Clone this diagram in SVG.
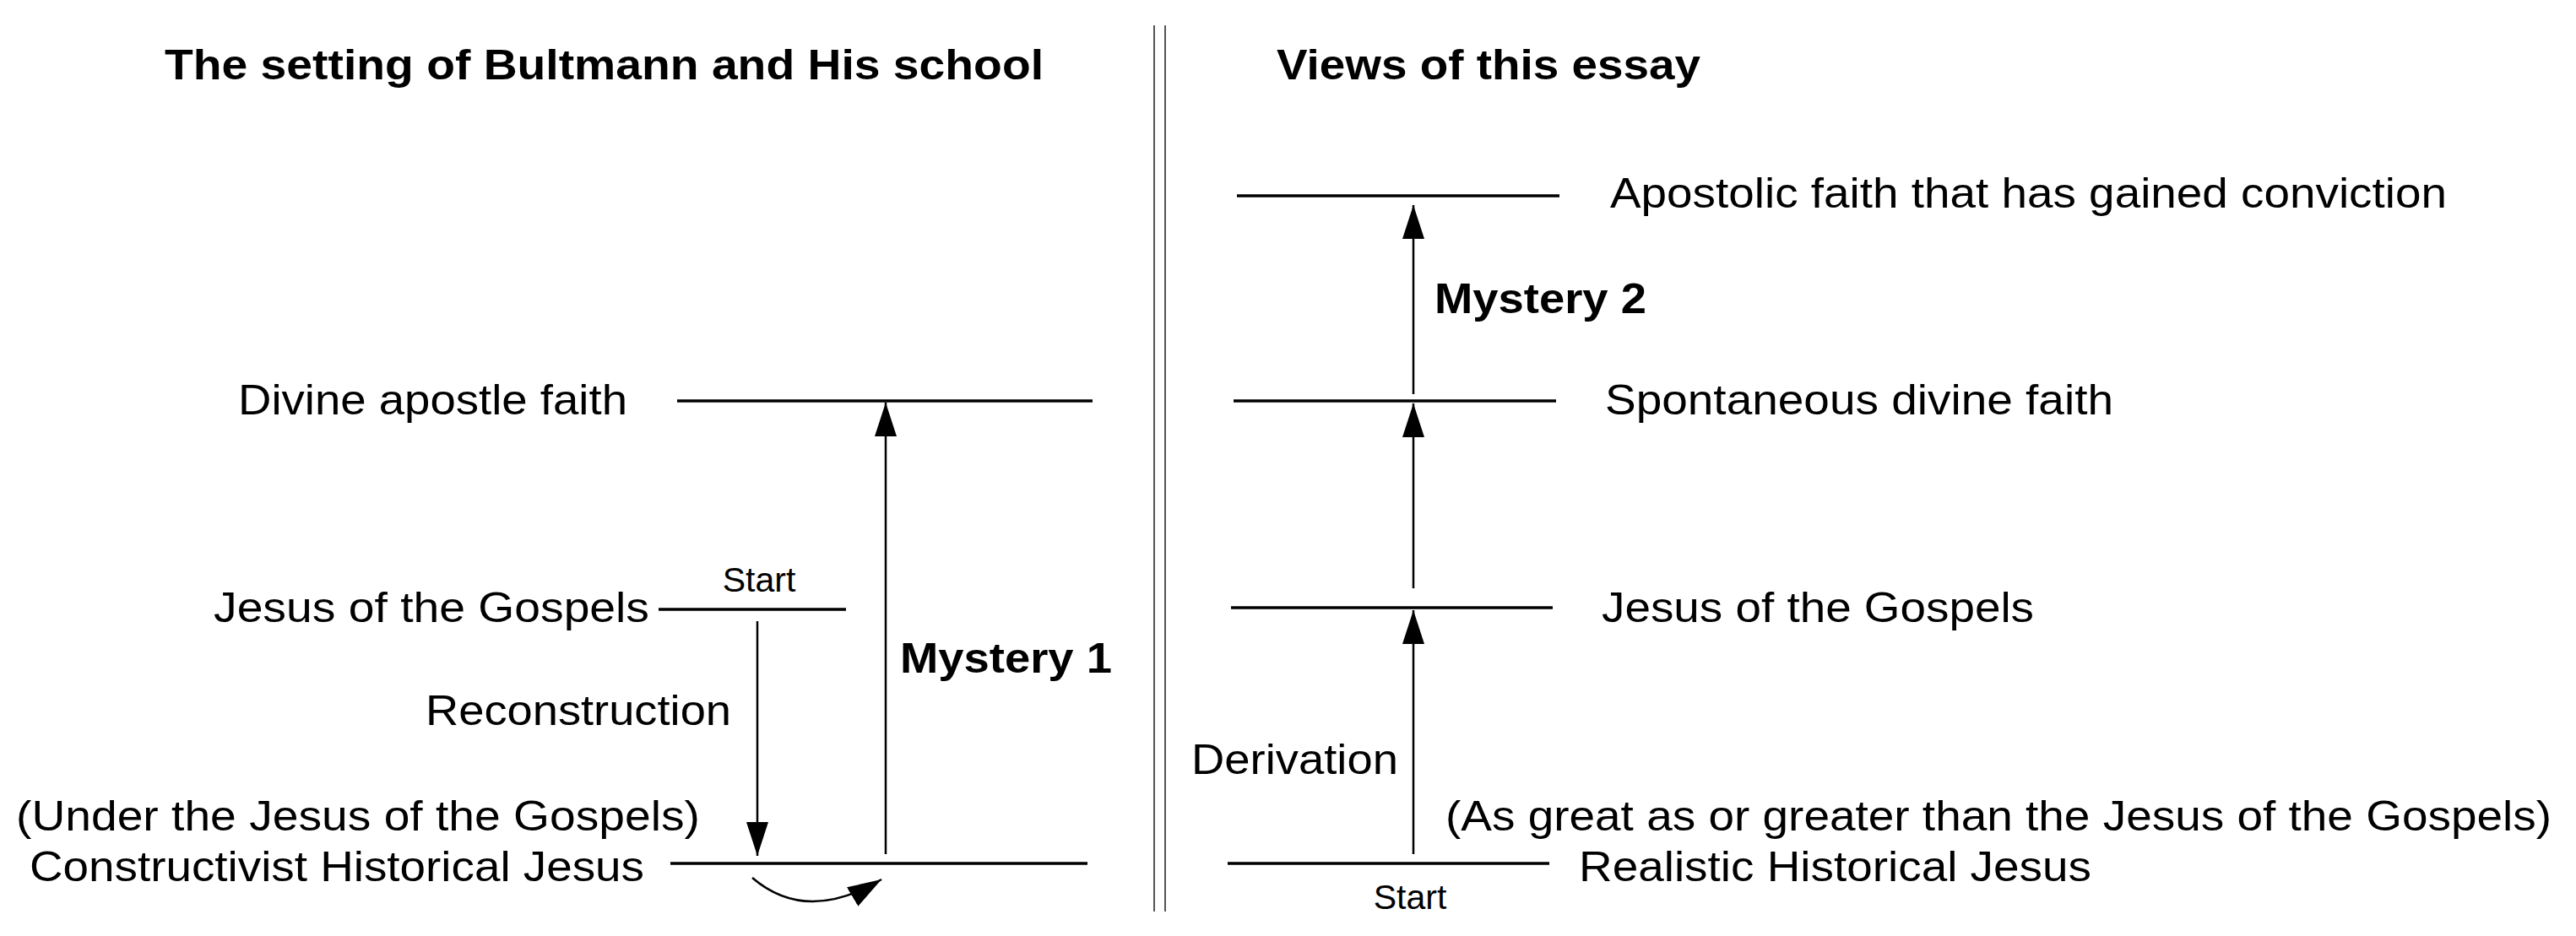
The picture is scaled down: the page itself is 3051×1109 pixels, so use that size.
<svg xmlns="http://www.w3.org/2000/svg" width="3051" height="1109" viewBox="0 0 3051 1109">
<style>
text{font-family:"Liberation Sans",Arial,sans-serif;font-size:50px;fill:#000}
.b{font-weight:bold}
.s{font-size:41px}
.lv{stroke:#000;stroke-width:3.5;fill:none}
.ar{stroke:#000;stroke-width:2.5;fill:none;marker-end:url(#ah)}
</style>
<defs>
<marker id="ah" markerUnits="userSpaceOnUse" markerWidth="44" markerHeight="30" refX="40" refY="13" orient="auto">
<path d="M0,0 L40,13 L0,26 Z" fill="#000"/>
</marker>
</defs>
<rect width="3051" height="1109" fill="#fff"/>
<g id="divider"><line x1="1367" y1="30" x2="1367" y2="1080" stroke="#555" stroke-width="2"/><line x1="1380" y1="30" x2="1380" y2="1080" stroke="#555" stroke-width="2"/></g>
<g id="titles">
<text class="b" x="195" y="94" textLength="1041" lengthAdjust="spacingAndGlyphs">The setting of Bultmann and His school</text>
<text class="b" x="1512" y="94" textLength="502" lengthAdjust="spacingAndGlyphs">Views of this essay</text>
</g>
<g id="l-divine"><line class="lv" x1="802" y1="475" x2="1294" y2="475"/><text x="282" y="491" textLength="461" lengthAdjust="spacingAndGlyphs">Divine apostle faith</text></g>
<g id="l-gospels"><line class="lv" x1="780" y1="722" x2="1002" y2="722"/><text x="253" y="737" textLength="516" lengthAdjust="spacingAndGlyphs">Jesus of the Gospels</text><text class="s" x="899" y="701" text-anchor="middle">Start</text></g>
<g id="l-constr"><line class="lv" x1="794" y1="1023" x2="1288" y2="1023"/><text x="19" y="984" textLength="810" lengthAdjust="spacingAndGlyphs">(Under the Jesus of the Gospels)</text><text x="35" y="1044" textLength="728" lengthAdjust="spacingAndGlyphs">Constructivist Historical Jesus</text></g>
<g id="r-apost"><line class="lv" x1="1465" y1="232" x2="1847" y2="232"/><text x="1907" y="246" textLength="991" lengthAdjust="spacingAndGlyphs">Apostolic faith that has gained conviction</text></g>
<g id="r-spont"><line class="lv" x1="1461" y1="475" x2="1843" y2="475"/><text x="1901" y="491" textLength="602" lengthAdjust="spacingAndGlyphs">Spontaneous divine faith</text></g>
<g id="r-gospels"><line class="lv" x1="1458" y1="720" x2="1839" y2="720"/><text x="1897" y="737" textLength="512" lengthAdjust="spacingAndGlyphs">Jesus of the Gospels</text></g>
<g id="r-real"><line class="lv" x1="1454" y1="1023" x2="1835" y2="1023"/><text x="1712" y="984" textLength="1310" lengthAdjust="spacingAndGlyphs">(As great as or greater than the Jesus of the Gospels)</text><text x="1870" y="1044" textLength="607" lengthAdjust="spacingAndGlyphs">Realistic Historical Jesus</text><text class="s" x="1670" y="1077" text-anchor="middle">Start</text></g>
<g id="connectors">
<line class="ar" x1="897" y1="736" x2="897" y2="1014"/>
<text x="504" y="859" textLength="362" lengthAdjust="spacingAndGlyphs">Reconstruction</text>
<line class="ar" x1="1049" y1="1012" x2="1049" y2="477"/>
<text class="b" x="1066" y="797" textLength="251" lengthAdjust="spacingAndGlyphs">Mystery 1</text>
<path class="ar" d="M891,1040 Q955,1095 1044,1042"/>
<line class="ar" x1="1674" y1="467" x2="1674" y2="243"/>
<text class="b" x="1699" y="371" textLength="251" lengthAdjust="spacingAndGlyphs">Mystery 2</text>
<line class="ar" x1="1674" y1="697" x2="1674" y2="478"/>
<line class="ar" x1="1674" y1="1012" x2="1674" y2="723"/>
<text x="1411" y="917" textLength="245" lengthAdjust="spacingAndGlyphs">Derivation</text>
</g>
</svg>
